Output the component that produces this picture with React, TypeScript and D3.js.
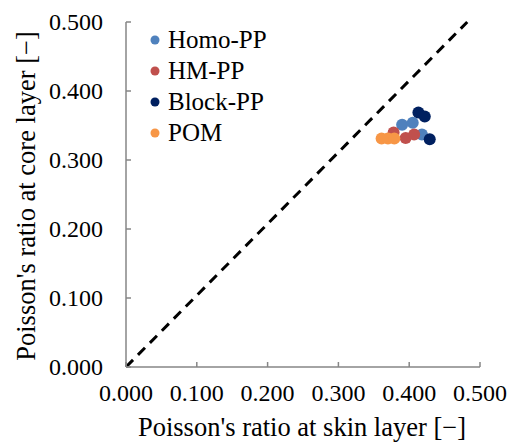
import React from "react";
import * as d3 from "d3";

const seriesNames = ["Homo-PP", "HM-PP", "Block-PP", "POM"];
const seriesColors = ["#4F81BD", "#C0504D", "#002060", "#F79646"];
const homoX = [0.390, 0.405, 0.418];
const homoY = [0.351, 0.354, 0.337];
const hmX = [0.378, 0.395, 0.407];
const hmY = [0.340, 0.332, 0.337];
const blockX = [0.413, 0.422, 0.429];
const blockY = [0.369, 0.363, 0.330];
const pomX = [0.361, 0.370, 0.379];
const pomY = [0.331, 0.331, 0.331];
const xTicks = [0, 0.1, 0.2, 0.3, 0.4, 0.5];
const yTicks = [0, 0.1, 0.2, 0.3, 0.4, 0.5];
const refLine = [[0, 0], [0.482, 0.5]];

const seriesX = [homoX, hmX, blockX, pomX];
const seriesY = [homoY, hmY, blockY, pomY];

const FONT = "Liberation Serif";

export default function App() {
  const W = 511, H = 445;
  const x = d3.scaleLinear().domain([0, 0.5]).range([126, 480]);
  const y = d3.scaleLinear().domain([0, 0.5]).range([367, 22]);
  const axisColor = "#868686";
  const line = d3.line<number[]>().x(d => x(d[0])).y(d => y(d[1]));
  return (
    <svg width={W} height={H} fontFamily={FONT} style={{ position: "absolute", left: 0, top: 0 }}>
      <rect x={0} y={0} width={W} height={H} fill="#fff" />
      <path d={line(refLine as any) || ""} fill="none" stroke="#000" strokeWidth={3} strokeDasharray="10,7" />
      <line x1={x(0)} x2={x(0)} y1={y(0)} y2={y(0.5)} stroke={axisColor} strokeWidth={1.5} />
      <line x1={x(0)} x2={x(0.5)} y1={y(0)} y2={y(0)} stroke={axisColor} strokeWidth={1.5} />
      {xTicks.map((t, i) => (
        <g key={"x" + i}>
          <line x1={x(t)} x2={x(t)} y1={y(0)} y2={y(0) - 5} stroke={axisColor} strokeWidth={1.5} />
          <text x={x(t)} y={401} fontSize={24} textAnchor="middle" fontFamily={FONT}>{t.toFixed(3)}</text>
        </g>
      ))}
      {yTicks.map((t, i) => (
        <g key={"y" + i}>
          <line x1={x(0)} x2={x(0) + 5} y1={y(t)} y2={y(t)} stroke={axisColor} strokeWidth={1.5} />
          <text x={103} y={y(t) + 8} fontSize={24} textAnchor="end" fontFamily={FONT}>{t.toFixed(3)}</text>
        </g>
      ))}
      {seriesX.map((xs, s) => (
        <g key={"s" + s}>
          {xs.map((v, i) => (
            <circle key={i} cx={x(v)} cy={y(seriesY[s][i])} r={6} fill={seriesColors[s]} />
          ))}
        </g>
      ))}
      {seriesNames.map((n, i) => (
        <g key={"l" + i}>
          <circle cx={155} cy={40 + i * 31} r={4.5} fill={seriesColors[i]} />
          <text x={168} y={40 + i * 31 + 8} fontSize={25} fontFamily={FONT}>{n}</text>
        </g>
      ))}
      <text x={302} y={436} fontSize={26.5} textAnchor="middle" fontFamily={FONT}>Poisson's ratio at skin layer [−]</text>
      <text transform={`translate(35,196) rotate(-90)`} fontSize={26.5} textAnchor="middle" fontFamily={FONT}>Poisson's ratio at core layer [−]</text>
    </svg>
  );
}
